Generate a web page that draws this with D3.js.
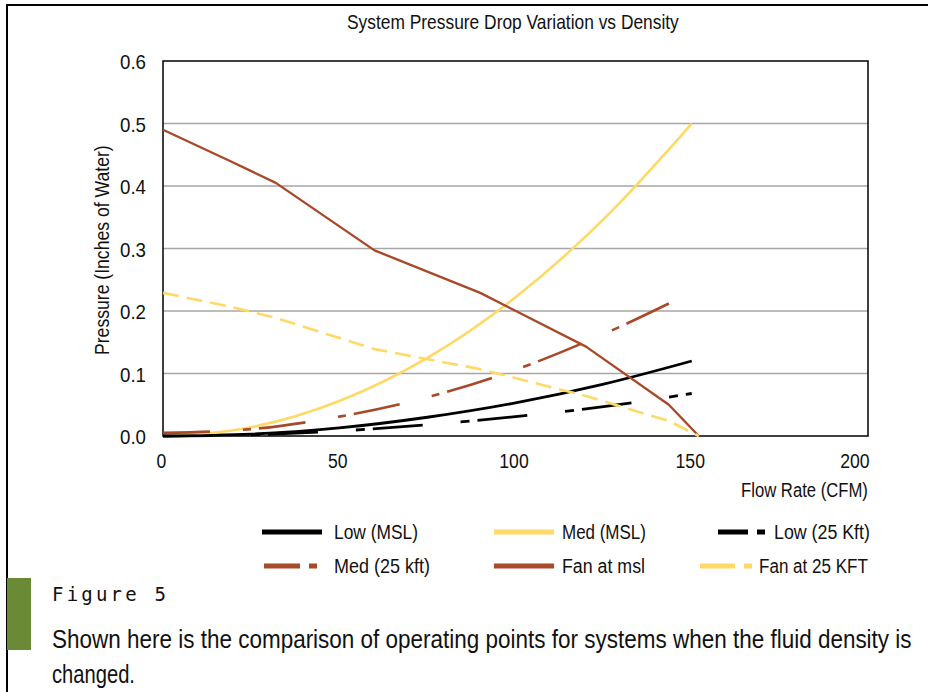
<!DOCTYPE html>
<html>
<head>
<meta charset="utf-8">
<script src="https://cdn.jsdelivr.net/npm/d3@7"></script>
<style>
  html, body { margin: 0; padding: 0; background: #fff; }
  svg { display: block; }
  text { font-family: "Liberation Sans", Arial, sans-serif; fill: #111; }
  text.mono { font-family: "DejaVu Sans Mono", "Liberation Mono", monospace; }
</style>
</head>
<body>
<svg id="chart" width="928" height="692"></svg>
<script>
// Flow rate (CFM) vs pressure (inches of water)
const lowMSL   = [[0,0],[25,0.003],[50,0.013],[75,0.030],[100,0.053],[125,0.083],[150,0.120]];
const medMSL   = [[0,0],[25,0.014],[50,0.056],[75,0.125],[100,0.222],[125,0.347],[150,0.500]];
const low25    = [[0,0],[25,0.002],[50,0.008],[75,0.018],[100,0.031],[125,0.047],[150,0.068]];
const med25    = [[0,0.005],[25,0.011],[50,0.031],[75,0.062],[100,0.106],[125,0.163],[145,0.216]];
const fanMSL   = [[0,0.490],[19,0.440],[32,0.405],[60,0.297],[90,0.229],[120,0.143],[143.5,0.050],[152,0]];
const fan25    = [[0,0.229],[19,0.207],[32,0.189],[60,0.139],[90,0.107],[120,0.064],[143.5,0.024],[152,0]];

const xTicks = [0, 50, 100, 150, 200];
const yTicks = [0, 0.1, 0.2, 0.3, 0.4, 0.5, 0.6];

const seriesNames = ["Low (MSL)", "Med (MSL)", "Low (25 Kft)", "Med (25 kft)", "Fan at msl", "Fan at 25 KFT"];

const BLACK = "#000000", GOLD = "#ffd966", RUST = "#a8492a";

const series = [
  { name: seriesNames[0], data: lowMSL, color: BLACK, dash: null,        width: 2.8, curve: d3.curveMonotoneX },
  { name: seriesNames[1], data: medMSL, color: GOLD,  dash: null,        width: 2.6, curve: d3.curveMonotoneX },
  { name: seriesNames[2], data: low25,  color: BLACK, dash: "50,38,9,8", width: 2.8, curve: d3.curveMonotoneX },
  { name: seriesNames[3], data: med25,  color: RUST,  dash: "47,33,8,8", width: 2.6, curve: d3.curveMonotoneX },
  { name: seriesNames[4], data: fanMSL, color: RUST,  dash: null,        width: 2.4, curve: d3.curveLinear },
  { name: seriesNames[5], data: fan25,  color: GOLD,  dash: "16,8",      width: 2.6, curve: d3.curveLinear }
];

// narrow a text horizontally to a given width (condensed look);
// `pre` is any transform applied before the squeeze (e.g. a rotation)
function fit(sel, w, pre) {
  const node = sel.node();
  const n = node.getComputedTextLength();
  const k = w / n;
  const tx = +sel.attr("x") || 0, ty = +sel.attr("y") || 0;
  sel.attr("x", 0).attr("y", 0)
    .attr("transform", `translate(${tx},${ty}) ${pre || ""} scale(${k},1)`);
  return sel;
}

const svg = d3.select("#chart");

// page frame and side marker
svg.append("path").attr("d", "M7,692V5H928").attr("fill", "none").attr("stroke", "#000").attr("stroke-width", 2);
svg.append("rect").attr("x", 7).attr("y", 578).attr("width", 24).attr("height", 72).attr("fill", "#6b8a36");

const x = d3.scaleLinear().domain([0, 200]).range([163, 868]);
const y = d3.scaleLinear().domain([0, 0.6]).range([436, 61]);

// gridlines
svg.append("g").selectAll("line").data(yTicks.slice(1, -1)).join("line")
  .attr("x1", x(0)).attr("x2", x(200))
  .attr("y1", d => y(d)).attr("y2", d => y(d))
  .attr("stroke", "#a6a6a6").attr("stroke-width", 1.5);

// plot frame
svg.append("rect")
  .attr("x", x(0)).attr("y", y(0.6))
  .attr("width", x(200) - x(0)).attr("height", y(0) - y(0.6))
  .attr("fill", "none").attr("stroke", "#000").attr("stroke-width", 1.5);

// axes
const yAxis = svg.append("g").attr("transform", `translate(${x(0) - 17},0)`)
  .call(d3.axisLeft(y).tickValues(yTicks).tickFormat(d3.format(".1f")).tickSize(0).tickPadding(0));
const xAxis = svg.append("g").attr("transform", `translate(-2,${y(0) + 17})`)
  .call(d3.axisBottom(x).tickValues(xTicks).tickFormat(d3.format("d")).tickSize(0).tickPadding(0));
[yAxis, xAxis].forEach(g => {
  g.select(".domain").remove();
  g.selectAll("text").attr("font-size", 21).attr("fill", "#111");
});
yAxis.selectAll("text").attr("dy", "0.36em").each(function () { fit(d3.select(this), 26); });
// the last x label sits inside the right edge of the plot
xAxis.selectAll(".tick").filter(d => d === 200).select("text")
  .attr("text-anchor", "end").attr("x", 3);
xAxis.selectAll("text").attr("dy", "0.72em")
  .each(function (d) { fit(d3.select(this), String(d).length * 9.8); });

// series lines
const line = d3.line().x(d => x(d[0])).y(d => y(d[1]));
svg.append("g").selectAll("path").data(series).join("path")
  .attr("d", s => line.curve(s.curve)(s.data))
  .attr("fill", "none")
  .attr("stroke", s => s.color)
  .attr("stroke-width", s => s.width)
  .attr("stroke-dasharray", s => s.dash)
  .attr("stroke-linejoin", "round");

// titles
fit(svg.append("text").attr("x", 347).attr("y", 29).attr("font-size", 21)
  .text("System Pressure Drop Variation vs Density"), 332);
fit(svg.append("text").attr("x", 109).attr("y", 355)
  .attr("font-size", 21).text("Pressure (Inches of Water)"), 210, "rotate(-90)");
fit(svg.append("text").attr("x", 741).attr("y", 497)
  .attr("font-size", 21).text("Flow Rate (CFM)"), 127);

// legend
const legendPos = [
  { lx: 262, tx: 334, y: 532, w: 84 },
  { lx: 494, tx: 562, y: 532, w: 84 },
  { lx: 718, tx: 774, y: 532, w: 96 },
  { lx: 264, tx: 334, y: 566, w: 96 },
  { lx: 494, tx: 562, y: 566, w: 83 },
  { lx: 700, tx: 759, y: 566, w: 109 }
];
const legendDash = [null, null, "30,9,8,40", "36,9,9,40", null, "35,9,8,40"];
const lg = svg.append("g").selectAll("g").data(series).join("g");
lg.append("line")
  .attr("x1", (s, i) => legendPos[i].lx)
  .attr("x2", (s, i) => legendPos[i].lx + (legendDash[i] ? 53 : 60))
  .attr("y1", (s, i) => legendPos[i].y).attr("y2", (s, i) => legendPos[i].y)
  .attr("stroke", s => s.color).attr("stroke-width", 5)
  .attr("stroke-dasharray", (s, i) => legendDash[i]);
lg.append("text")
  .attr("x", (s, i) => legendPos[i].tx).attr("y", (s, i) => legendPos[i].y + 7)
  .attr("font-size", 21).text(s => s.name)
  .each(function (s, i) { fit(d3.select(this), legendPos[i].w); });

// caption
svg.append("text").attr("class", "mono").attr("x", 52).attr("y", 601)
  .attr("font-size", 19).attr("letter-spacing", 3.2).attr("fill", "#222").text("Figure 5");
fit(svg.append("text").attr("x", 52).attr("y", 648).attr("font-size", 25)
  .text("Shown here is the comparison of operating points for systems when the fluid density is"), 860);
fit(svg.append("text").attr("x", 52).attr("y", 683).attr("font-size", 25).text("changed."), 83);
</script>
</body>
</html>
